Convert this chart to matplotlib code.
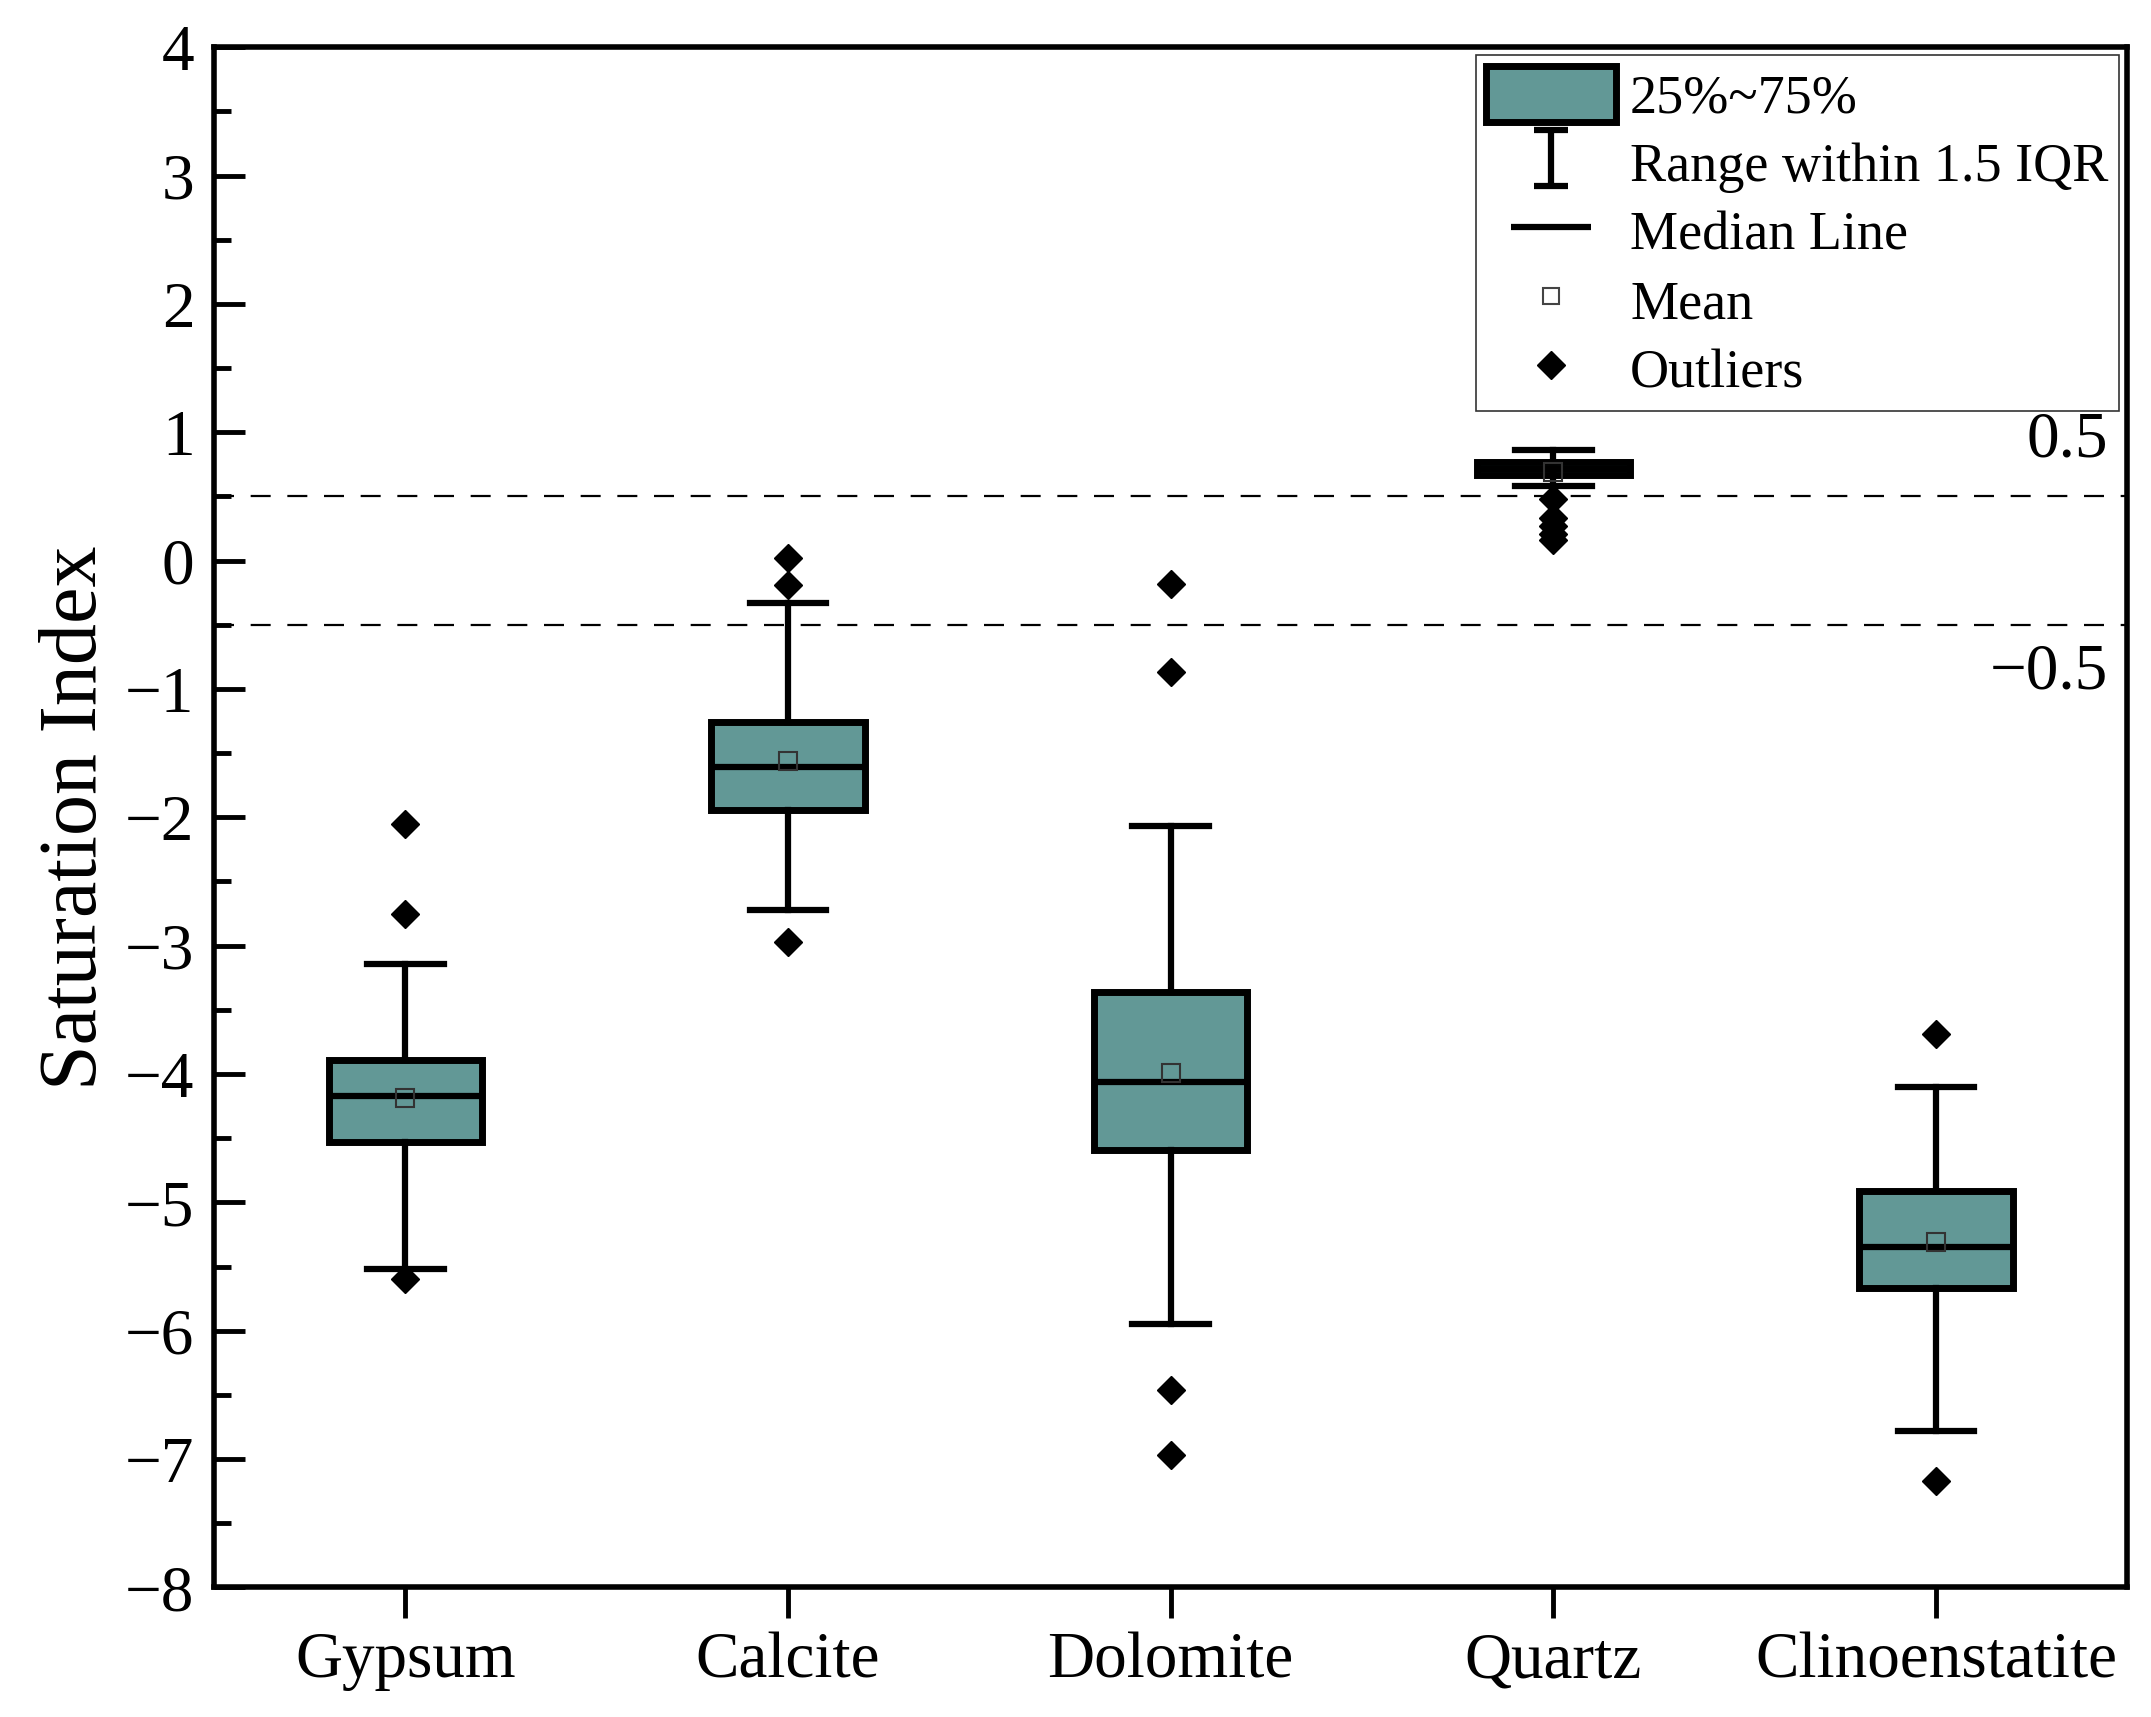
import numpy as np
import matplotlib
matplotlib.use('Agg')
import matplotlib.pyplot as plt
from matplotlib.lines import Line2D
from matplotlib.patches import Rectangle
from matplotlib.path import Path
from matplotlib.ticker import MultipleLocator
import matplotlib.transforms as mtransforms

plt.rcParams['font.family'] = ['Liberation Serif', 'DejaVu Serif']

# 数据
minerals = ['Gypsum', 'Calcite', 'Dolomite', 'Quartz', 'Clinoenstatite']
q1 = [-4.53, -1.94, -4.59, 0.67, -5.67]
med = [-4.17, -1.61, -4.06, 0.71, -5.35]
q3 = [-3.89, -1.26, -3.36, 0.77, -4.91]
whislo = [-5.52, -2.72, -5.95, 0.58, -6.78]
whishi = [-3.14, -0.33, -2.07, 0.86, -4.10]
means = [-4.19, -1.56, -3.99, 0.69, -5.31]
outliers = [
    [-2.05, -2.75, -5.60],
    [0.02, -0.19, -2.97],
    [-0.18, -0.87, -6.46, -6.97],
    [0.48, 0.33, 0.27, 0.21, 0.16],
    [-3.69, -7.17],
]

box_color = '#629896'

stats = []
for i, name in enumerate(minerals):
    stats.append(dict(label=name, q1=q1[i], med=med[i], q3=q3[i],
                      whislo=whislo[i], whishi=whishi[i], mean=means[i],
                      fliers=outliers[i]))

fig = plt.figure(figsize=(21.51, 17.17), dpi=100)
ax = fig.add_axes([0.0995, 0.0755, 0.8895, 0.897])

lw = 4.5
ax.bxp(stats, positions=range(1, 6), widths=0.4, patch_artist=True,
       showmeans=True, capwidths=0.2,
       boxprops=dict(facecolor=box_color, edgecolor='black', linewidth=lw + 0.5),
       whiskerprops=dict(color='black', linewidth=lw),
       capprops=dict(color='black', linewidth=lw),
       medianprops=dict(color='black', linewidth=lw),
       meanprops=dict(marker='s', markerfacecolor='none', markeredgecolor='#333333',
                      markersize=13, markeredgewidth=1.5),
       flierprops=dict(marker='D', markerfacecolor='black', markeredgecolor='black',
                       markersize=14))

# 饱和线
for yv in [0.5, -0.5]:
    ax.axhline(yv, color='black', linewidth=1.6, dashes=(9, 7.5), zorder=0)

trans = mtransforms.blended_transform_factory(ax.transAxes, ax.transData)
ax.text(0.99, 0.81, '0.5', transform=trans, ha='right', va='baseline', fontsize=47)
ax.text(0.99, -1.0, '\u22120.5', transform=trans, ha='right', va='baseline', fontsize=47)

ax.set_xlim(0.5, 5.5)
ax.set_ylim(-8, 4)
ax.yaxis.set_major_locator(MultipleLocator(1))
ax.yaxis.set_minor_locator(MultipleLocator(0.5))
ax.set_xticks(range(1, 6))
ax.set_xticklabels(minerals)
ax.set_ylabel('Saturation Index', fontsize=59, labelpad=8)

ax.tick_params(axis='y', which='major', direction='in', length=22, width=3.5,
               labelsize=47, pad=14, right=False)
ax.tick_params(axis='y', which='minor', direction='in', length=12, width=3.5, right=False)
ax.tick_params(axis='x', which='major', direction='out', length=22, width=3.5,
               labelsize=47, pad=10, top=False)
for sp in ax.spines.values():
    sp.set_linewidth(4)

# 图例
I_path = Path([(-0.6, 1), (0.6, 1), (0, 1), (0, -1), (-0.6, -1), (0.6, -1)],
              [Path.MOVETO, Path.LINETO, Path.MOVETO, Path.LINETO, Path.MOVETO, Path.LINETO])
h_box = Rectangle((0, 0), 1, 1, facecolor=box_color, edgecolor='black', linewidth=5)
h_range = Line2D([], [], linestyle='none', marker=I_path, markersize=40,
                 markeredgecolor='black', markerfacecolor='none', markeredgewidth=lw)
h_med = Line2D([], [], linestyle='none', marker='_', markersize=58,
               markeredgecolor='black', markeredgewidth=lw)
h_mean = Line2D([], [], linestyle='none', marker='s', markersize=12,
                markerfacecolor='white', markeredgecolor='#444444', markeredgewidth=1.5)
h_out = Line2D([], [], linestyle='none', marker='D', markersize=14,
               markerfacecolor='black', markeredgecolor='black')
leg = ax.legend([h_box, h_range, h_med, h_mean, h_out],
                ['25%~75%', 'Range within 1.5 IQR', 'Median Line', 'Mean', 'Outliers'],
                loc='upper right', fontsize=39, frameon=True, fancybox=False,
                edgecolor='black', borderaxespad=0.15, handlelength=2.4,
                handleheight=1.2, labelspacing=0.2, handletextpad=0.25,
                borderpad=0.2)
leg.get_frame().set_linewidth(1.2)

fig.savefig('out.png', dpi=100)
